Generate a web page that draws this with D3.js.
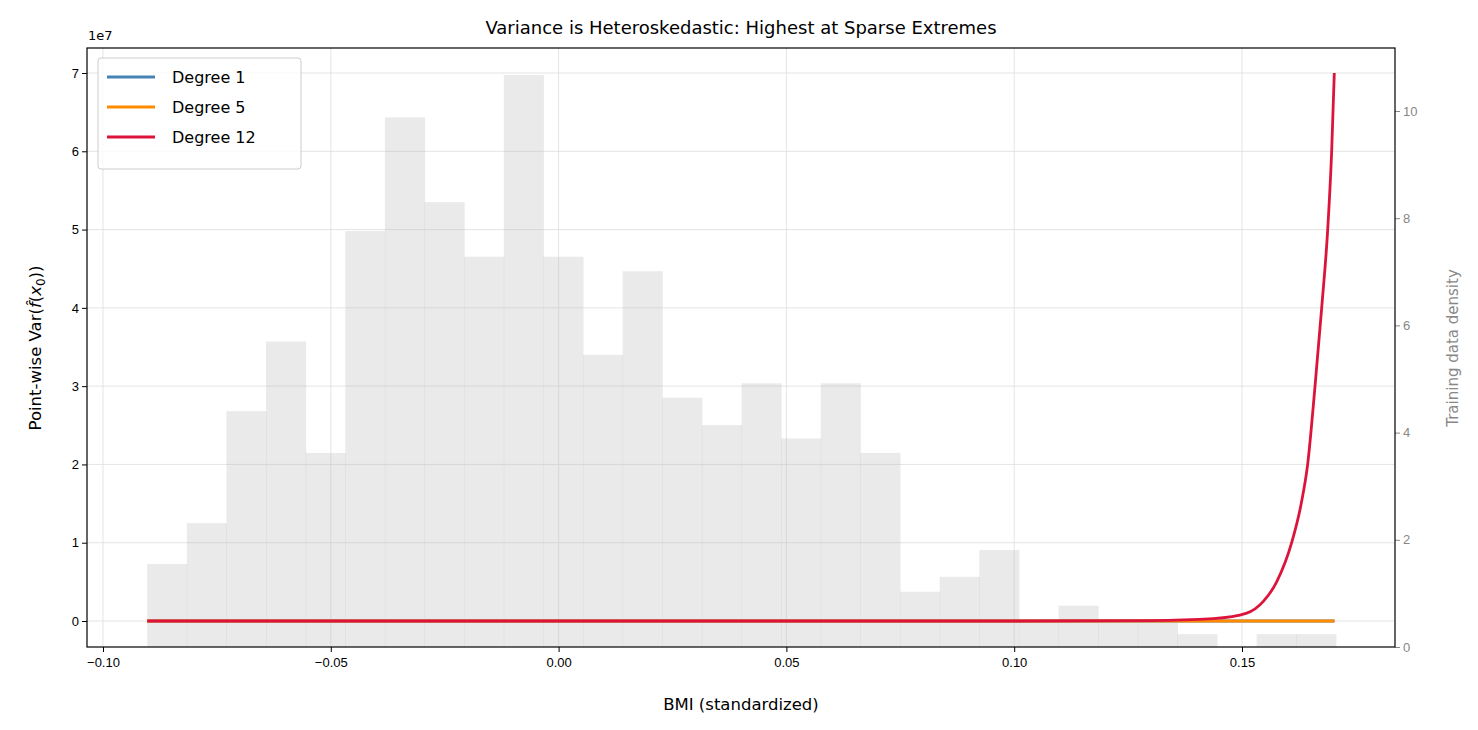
<!DOCTYPE html>
<html><head><meta charset="utf-8">
<script src="https://cdn.jsdelivr.net/npm/d3@7"></script>
<style>body{margin:0;background:#fff;font-family:"DejaVu Sans",sans-serif}</style>
</head><body><svg width="1478" height="730"></svg>
<script>
// histogram of training BMI (density), 30 bins
const binStart = -0.0903, binWidth = 0.008697;
const density = [1.55,2.31,4.40,5.70,3.62,7.76,9.88,8.30,7.28,10.67,7.28,5.45,7.01,4.65,4.14,4.92,3.89,4.92,3.62,1.03,1.31,1.81,0.49,0.77,0.49,0.49,0.24,0,0.24,0.24];
const xMin = -0.0903, xMax = 0.1703;
// degree-12 variance curve (units of 1e7)
const deg12X = [-0.0903,0.10,0.13,0.14371,0.15103,0.15468,0.15761,0.16090,0.16300,0.16441,0.16603,0.16749,0.16881,0.16968,0.17026];
const deg12Y = [0,0,0.005,0.03,0.1,0.25,0.5,1,1.5,2,3,4,5,6,7];
const series = [
  {name:'Degree 1', color:'#4682b4', x:[xMin,xMax], y:[0,0]},
  {name:'Degree 5', color:'#ff8c00', x:[xMin,xMax], y:[0,0]},
  {name:'Degree 12', color:'#dc143c', x:deg12X, y:deg12Y}
];

const svg = d3.select('svg');
const m = {left:87, right:1395, top:48, bottom:647};
const x = d3.scaleLinear().domain([-0.10,0.15]).range([103,1242]);
const y = d3.scaleLinear().domain([0,7]).range([621,73]);
const y2 = d3.scaleLinear().domain([0,10]).range([647,111]);

// grid
const g = svg.append('g');
g.selectAll('.gx').data(x.ticks(6)).enter().append('line')
  .attr('x1',d=>x(d)).attr('x2',d=>x(d)).attr('y1',m.top).attr('y2',m.bottom)
  .attr('stroke','#ddd').attr('stroke-opacity',0.8);
g.selectAll('.gy').data(d3.range(0,8)).enter().append('line')
  .attr('x1',m.left).attr('x2',m.right).attr('y1',d=>y(d)).attr('y2',d=>y(d))
  .attr('stroke','#ddd').attr('stroke-opacity',0.8);

// histogram
svg.append('g').selectAll('rect').data(density).enter().append('rect')
  .attr('x',(d,i)=>x(binStart+i*binWidth))
  .attr('width',x(binWidth)-x(0)+0.5)
  .attr('y',d=>y2(d)).attr('height',d=>y2(0)-y2(d))
  .attr('fill','#bbb').attr('fill-opacity',0.3);

// lines
const line = d3.line().x(d=>x(d[0])).y(d=>y(d[1])).curve(d3.curveMonotoneX);
series.forEach(s=>{
  svg.append('path').datum(s.x.map((v,i)=>[v,s.y[i]]))
    .attr('d',line).attr('fill','none').attr('stroke',s.color).attr('stroke-width',2.8);
});

// axes
svg.append('g').attr('transform',`translate(0,${m.bottom})`)
  .call(d3.axisBottom(x).ticks(6).tickSize(5).tickSizeOuter(0))
  .call(a=>a.select('.domain').remove())
  .selectAll('text').style('font-size','13px').attr('dy','0.9em').text(d=>d3.format('.2f')(d).replace('-','−'));
svg.append('g').attr('transform',`translate(${m.left},0)`)
  .call(d3.axisLeft(y).ticks(8).tickSize(5).tickSizeOuter(0))
  .call(a=>a.select('.domain').remove())
  .selectAll('text').style('font-size','13px');
const ra = svg.append('g').attr('transform',`translate(${m.right},0)`)
  .call(d3.axisRight(y2).tickValues([0,2,4,6,8,10]).tickSize(5).tickSizeOuter(0));
ra.select('.domain').remove();
ra.selectAll('line').attr('stroke','#888');
ra.selectAll('text').style('font-size','13px').attr('fill','#888');

svg.append('rect').attr('x',m.left).attr('y',m.top).attr('width',m.right-m.left).attr('height',m.bottom-m.top)
  .attr('fill','none').attr('stroke','#000').attr('stroke-width',1.2);

// texts
svg.append('text').attr('x',741).attr('y',34).attr('text-anchor','middle').style('font-size','18px')
  .text('Variance is Heteroskedastic: Highest at Sparse Extremes');
svg.append('text').attr('x',88).attr('y',40).style('font-size','13px').text('1e7');
svg.append('text').attr('x',741).attr('y',710).attr('text-anchor','middle').style('font-size','16.5px')
  .text('BMI (standardized)');
const yl = svg.append('text').attr('transform','translate(41,348) rotate(-90)').attr('text-anchor','middle').style('font-size','16.5px');
yl.append('tspan').text('Point-wise Var(');
yl.append('tspan').attr('font-style','italic').text('f̂');
yl.append('tspan').text('(');
yl.append('tspan').attr('font-style','italic').text('x');
yl.append('tspan').attr('dy',4).style('font-size','12px').text('0');
yl.append('tspan').attr('dy',-4).text('))');
svg.append('text').attr('transform','translate(1458,348) rotate(-90)').attr('text-anchor','middle')
  .style('font-size','15px').attr('fill','#888').text('Training data density');

// legend
const lg = svg.append('g').attr('transform','translate(98,58)');
lg.append('rect').attr('width',203).attr('height',111).attr('rx',3).attr('fill','#fff').attr('fill-opacity',0.8).attr('stroke','#ccc');
series.forEach((s,i)=>{
  const yy = 19+i*30;
  lg.append('line').attr('x1',9).attr('x2',57).attr('y1',yy).attr('y2',yy).attr('stroke',s.color).attr('stroke-width',2.8);
  lg.append('text').attr('x',74).attr('y',yy+5.5).style('font-size','16px').text(s.name);
});
</script></body></html>
